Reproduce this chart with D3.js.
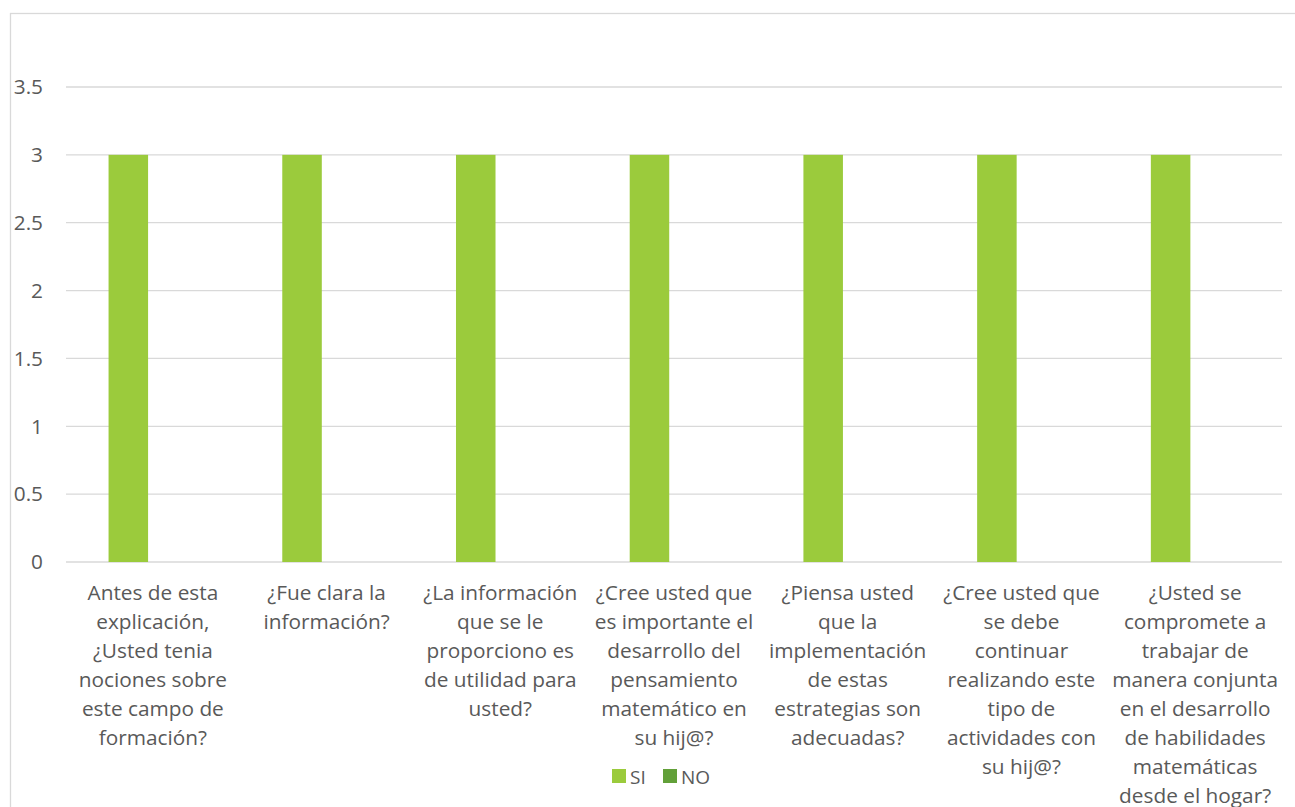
<!DOCTYPE html>
<html><head><meta charset="utf-8">
<script src="https://cdn.jsdelivr.net/npm/d3@7"></script>
<style>body{margin:0;background:#fff}svg{display:block}text{font-family:"Open Sans",sans-serif;fill:#595959}</style>
</head><body>
<svg id="c" width="1295" height="807"></svg>
<script>
const categories = [
  "Antes de esta\nexplicación,\n¿Usted tenia\nnociones sobre\neste campo de\nformación?",
  "¿Fue clara la\ninformación?",
  "¿La información\nque se le\nproporciono es\nde utilidad para\nusted?",
  "¿Cree usted que\nes importante el\ndesarrollo del\npensamiento\nmatemático en\nsu hij@?",
  "¿Piensa usted\nque la\nimplementación\nde estas\nestrategias son\nadecuadas?",
  "¿Cree usted que\nse debe\ncontinuar\nrealizando este\ntipo de\nactividades con\nsu hij@?",
  "¿Usted se\ncompromete a\ntrabajar de\nmanera conjunta\nen el desarrollo\nde habilidades\nmatemáticas\ndesde el hogar?"
];
const seriesNames = ["SI", "NO"];
const siValues = [3, 3, 3, 3, 3, 3, 3];
const noValues = [0, 0, 0, 0, 0, 0, 0];
const yTicks = [0, 0.5, 1, 1.5, 2, 2.5, 3, 3.5];
const colors = ["#9BCB3C", "#62A039"];

const svg = d3.select("#c");
const L = 66, R = 1282, T = 87, B = 562;
const fs = 20.8;

svg.append("rect").attr("x", 10.5).attr("y", 13.5).attr("width", 1300).attr("height", 820)
  .attr("fill", "none").attr("stroke", "#d9d9d9").attr("stroke-width", 1.3);

const y = d3.scaleLinear().domain([0, 3.5]).range([B, T]);
const x0 = d3.scaleBand().domain(d3.range(categories.length)).range([L, R]).padding(0);
const bw = x0.bandwidth();
const x1 = d3.scaleBand().domain(seriesNames).range([0.245 * bw, 0.70 * bw]).padding(0);

svg.append("g").selectAll("line").data(yTicks).join("line")
  .attr("x1", L).attr("x2", R).attr("y1", d => y(d)).attr("y2", d => y(d))
  .attr("stroke", "#d9d9d9").attr("stroke-width", 1.3);

svg.append("g").selectAll("text").data(yTicks).join("text")
  .attr("x", 43).attr("y", d => y(d)).attr("dy", "0.35em").attr("text-anchor", "end")
  .attr("font-size", fs).text(d => d);

const series = [siValues, noValues];
seriesNames.forEach((s, si) => {
  svg.append("g").selectAll("rect").data(series[si]).join("rect")
    .attr("x", (d, i) => x0(i) + x1(s))
    .attr("width", x1.bandwidth())
    .attr("y", d => y(d))
    .attr("height", d => y(0) - y(d))
    .attr("fill", colors[si]);
});

const cg = svg.append("g");
categories.forEach((c, i) => {
  const t = cg.append("text").attr("text-anchor", "middle").attr("font-size", fs);
  c.split("\n").forEach((ln, j) => {
    t.append("tspan").attr("x", x0(i) + bw / 2).attr("y", 600 + j * 29).text(ln);
  });
});

const lg = svg.append("g");
const lx = [612, 663];
seriesNames.forEach((s, i) => {
  lg.append("rect").attr("x", lx[i]).attr("y", 769).attr("width", 14).attr("height", 14).attr("fill", colors[i]);
  lg.append("text").attr("x", lx[i] + 18).attr("y", 783.5).attr("font-size", 19).text(s);
});
</script>
</body></html>
